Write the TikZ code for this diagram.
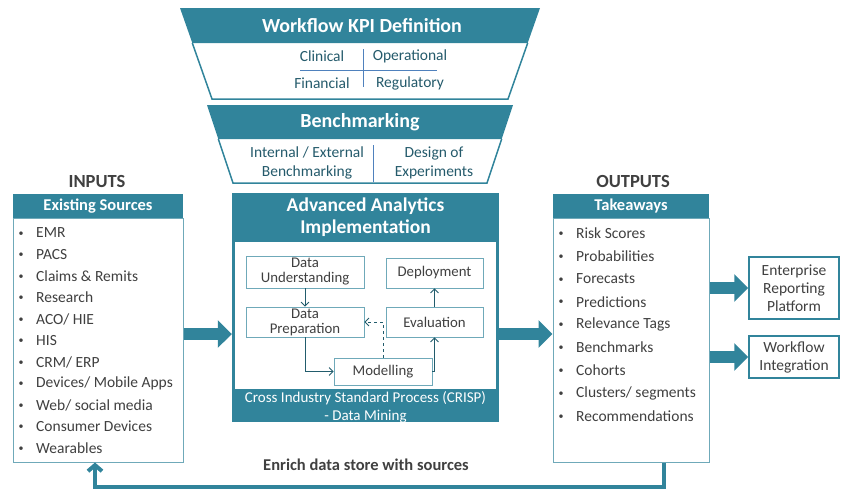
\documentclass[tikz,border=0pt]{standalone}
\usepackage{fontspec}
\setmainfont{Carlito}
\usetikzlibrary{positioning}
\usetikzlibrary{arrows.meta}
\definecolor{tealmain}{HTML}{31849B}
\definecolor{txtgray}{HTML}{404040}
\definecolor{kpitxt}{HTML}{245A6B}
\definecolor{kpiline}{HTML}{4F81BD}
\tikzset{
  hdrbox/.style={fill=tealmain, text=white, font=\bfseries\fontsize{16.5}{18}\selectfont, minimum height=24pt, inner sep=0pt},
  bodybox/.style={draw=tealmain!70, line width=1pt, fill=white, inner sep=0pt},
  itemtxt/.style={text=txtgray, font=\fontsize{15.5}{17}\selectfont, anchor=west, inner sep=0pt},
  bullettxt/.style={text=txtgray, font=\fontsize{10}{12}\selectfont, inner sep=0pt},
  kpitext/.style={text=kpitxt, font=\fontsize{15.5}{19}\selectfont, align=center, inner sep=0pt},
  crispbox/.style={draw=tealmain!70, line width=0.8pt, fill=white, text=txtgray, font=\fontsize{14.8}{15}\selectfont, align=center, inner sep=0pt},
  crisparrow/.style={draw=tealmain!70!black, line width=0.8pt, -{Straight Barb[length=4pt,width=8pt]}},
  fatarrow/.style={draw=tealmain, line width=12pt, -{Triangle[length=14pt,width=27pt]}},
  sidebox/.style={draw=tealmain, line width=1.5pt, text=txtgray, font=\fontsize{15.5}{18}\selectfont, align=center, inner sep=0pt},
  titletxt/.style={text=txtgray, font=\bfseries\fontsize{18.5}{20}\selectfont}
}
\begin{document}
\begin{tikzpicture}[x=1pt, y=-1pt]
		\useasboundingbox (0,0) rectangle (846,491);
		% KPI funnel
		\fill[tealmain] (180,8) -- (540,8) -- (527.7,43) -- (192.3,43) -- cycle;
		\draw[tealmain, line width=1.5pt] (192.3,43) -- (212,99) -- (508,99) -- (527.7,43);
		\node[text=white, font=\bfseries\fontsize{20}{22}\selectfont] (kpi) at (362,26) {Workflow KPI Definition};
		\node[kpitext] (clin) at (322,56) {Clinical};
		\node[kpitext] (oper) at (410,56) {Operational};
		\node[kpitext] (fin) at (322,83) {Financial};
		\node[kpitext] (reg) at (410,83) {Regulatory};
		\draw[kpiline, line width=0.8pt] (300,70) -- (437,70);
		\draw[kpiline, line width=0.8pt] (363,49) -- (363,87);
		% benchmarking funnel
		\fill[tealmain] (207,105) -- (513,105) -- (501.7,139) -- (218.3,139) -- cycle;
		\draw[tealmain, line width=1.5pt] (218.3,139) -- (233,183) -- (487,183) -- (501.7,139);
		\node[text=white, font=\bfseries\fontsize{20}{22}\selectfont] (bench) at (360,122) {Benchmarking};
		\node[kpitext] (intext) at (307,162.5) {Internal / External\\Benchmarking};
		\node[kpitext] (doe) at (434,162.5) {Design of\\Experiments};
		\draw[kpiline, line width=0.8pt] (373,145) -- (373,182);
		% inputs
		\node[titletxt] (inputs) at (97,181) {INPUTS};
		\node[bodybox, minimum width=170pt, minimum height=244pt] (inbody) at (98,340) {};
		\node[hdrbox, minimum width=170pt] (inhdr) at (98,206) {Existing Sources};
		\foreach \txt [count=\i from 0] in {EMR, PACS, Claims \& Remits, Research, ACO/ HIE, HIS, CRM/ ERP, Devices/ Mobile Apps, Web/ social media, Consumer Devices, Wearables} {
			\node[bullettxt] (inbul\i) at (21,234+21.5*\i) {•};
			\node[itemtxt] (initem\i) at (36,233+21.5*\i) {\txt};
		}
		% outputs
		\node[titletxt] (outputs) at (633,181) {OUTPUTS};
		\node[bodybox, minimum width=156pt, minimum height=244pt] (outbody) at (631,340) {};
		\node[hdrbox, minimum width=156pt] (outhdr) at (631,206) {Takeaways};
		\foreach \txt [count=\i from 0] in {Risk Scores, Probabilities, Forecasts, Predictions, Relevance Tags, Benchmarks, Cohorts, Clusters/ segments, Recommendations} {
			\node[bullettxt] (outbul\i) at (561,234+22.9*\i) {•};
			\node[itemtxt] (outitem\i) at (576,233+22.9*\i) {\txt};
		}
		% analytics box
		\node[fill=tealmain, minimum width=267pt, minimum height=229pt, inner sep=0pt] (aai) at (365.5,307.5) {};
		\fill[white] (235,242) rectangle (496,389);
		\node[text=white, font=\bfseries\fontsize{19.5}{21.5}\selectfont, align=center] (aaititle) at (365.5,217) {Advanced Analytics\\Implementation};
		\node[text=white, font=\fontsize{15}{18}\selectfont, align=center] (crisp) at (365.5,407) {Cross Industry Standard Process (CRISP)\\- Data Mining};
		\node[crispbox, minimum width=118pt, minimum height=32pt] (du) at (305,272) {Data\\Understanding};
		\node[crispbox, minimum width=97pt, minimum height=30pt] (dep) at (434.5,273) {Deployment};
		\node[crispbox, minimum width=118pt, minimum height=30pt] (dp) at (305,322) {Data\\Preparation};
		\node[crispbox, minimum width=97pt, minimum height=30pt] (ev) at (434.5,322) {Evaluation};
		\node[crispbox, minimum width=98pt, minimum height=27pt] (mo) at (383,371.5) {Modelling};
		\draw[crisparrow] (du.south) -- (dp.north);
		\draw[crisparrow] (dp.south) |- (mo.west);
		\draw[crisparrow] (mo.east) -| (ev.south);
		\draw[crisparrow] (ev.north) -- (dep.south);
		\draw[crisparrow, dashed] (mo.north) |- (dp.east);
		% outlets
		\node[sidebox, minimum width=90pt, minimum height=62pt] (erp) at (794,288) {Enterprise\\Reporting\\Platform};
		\node[sidebox, minimum width=90pt, minimum height=42pt] (wfi) at (794,357) {Workflow\\Integration};
		% block arrows
		\draw[fatarrow] (inbody.east |- 0,334) -- (aai.west |- 0,334);
		\draw[fatarrow] (aai.east |- 0,334) -- (outbody.west |- 0,334);
		\draw[fatarrow] (outbody.east |- erp.west) -- (erp.west);
		\draw[fatarrow] (outbody.east |- wfi.west) -- (wfi.west);
		% feedback loop
		\coordinate (loopr) at (664,487);
		\coordinate (loopl) at (95,487);
		\draw[tealmain, line width=4pt, -{Straight Barb[length=6pt,width=14pt]}] (outbody.south -| loopr) -- (loopr) -- (loopl) -- (inbody.south -| loopl);
		\node[text=txtgray, font=\bfseries\fontsize{16.5}{18}\selectfont] (enrich) at (366,465) {Enrich data store with sources};
	\end{tikzpicture}
\end{document}
